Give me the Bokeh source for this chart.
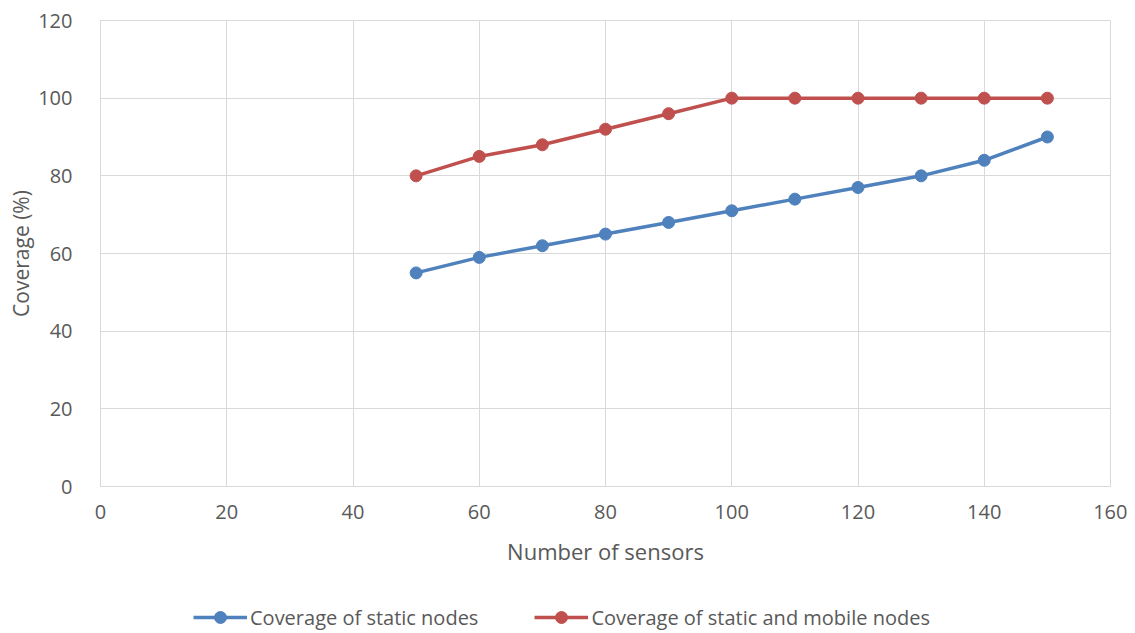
from bokeh.plotting import figure
from bokeh.layouts import column
from bokeh.models import Range1d, FixedTicker, Legend, LegendItem
from bokeh.embed import file_html
from bokeh.resources import INLINE

sensors = [50, 60, 70, 80, 90, 100, 110, 120, 130, 140, 150]
static_cov = [55, 59, 62, 65, 68, 71, 74, 77, 80, 84, 90]
mobile_cov = [80, 85, 88, 92, 96, 100, 100, 100, 100, 100, 100]
x_ticks = [0, 20, 40, 60, 80, 100, 120, 140, 160]
y_ticks = [0, 20, 40, 60, 80, 100, 120]
series_names = ["Coverage of static nodes", "Coverage of static and mobile nodes"]

BLUE = "#4F81BD"
RED = "#C0504D"
GRID = "#d9d9d9"
TXT = "#595959"
FONT = "Open Sans"

p = figure(width=1127, height=590, output_backend="svg", toolbar_location=None,
           x_range=Range1d(0, 160), y_range=Range1d(0, 120),
           min_border_left=100, min_border_top=20, min_border_right=17, min_border_bottom=104)
p.outline_line_color = GRID
p.background_fill_color = "white"
p.border_fill_color = "white"

for ax in (p.xaxis[0], p.yaxis[0]):
    ax.axis_line_color = GRID
    ax.major_tick_line_color = None
    ax.minor_tick_line_color = None
    ax.major_label_text_color = TXT
    ax.major_label_text_font = FONT
    ax.major_label_text_font_size = "20px"
    ax.axis_label_text_color = TXT
    ax.axis_label_text_font = FONT
    ax.axis_label_text_font_size = "21px"
    ax.axis_label_text_font_style = "normal"

p.xaxis[0].ticker = FixedTicker(ticks=x_ticks)
p.yaxis[0].ticker = FixedTicker(ticks=y_ticks)
p.xaxis[0].axis_label = "Number of sensors"
p.yaxis[0].axis_label = "Coverage (%)"
p.xaxis[0].axis_label_text_font_size = "22px"
p.xaxis[0].major_label_standoff = 12
p.yaxis[0].major_label_standoff = 22
p.xaxis[0].axis_label_standoff = 14
p.yaxis[0].axis_label_standoff = 0

p.xgrid.grid_line_color = GRID
p.ygrid.grid_line_color = GRID
p.xgrid.ticker = FixedTicker(ticks=x_ticks)
p.ygrid.ticker = FixedTicker(ticks=y_ticks)

series = [static_cov, mobile_cov]
colors = [BLUE, RED]
for vals, col in zip(series, colors):
    p.line(sensors, vals, line_color=col, line_width=3.5)
    p.scatter(sensors, vals, size=12, fill_color=col, line_color=col)

# legend strip below the chart (its renderers fall outside this strip's ranges)
lg = figure(width=1127, height=43, output_backend="svg", toolbar_location=None,
            x_range=Range1d(-2, -1), y_range=Range1d(-2, -1),
            x_axis_type=None, y_axis_type=None,
            min_border_left=0, min_border_right=0, min_border_top=0, min_border_bottom=0)
lg.outline_line_color = None
lg.xgrid.visible = False
lg.ygrid.visible = False
items = []
for name, vals, col in zip(series_names, series, colors):
    r1 = lg.line(sensors, vals, line_color=col, line_width=3.5)
    r2 = lg.scatter(sensors, vals, size=12, fill_color=col, line_color=col)
    items.append(LegendItem(label=name, renderers=[r1, r2]))

legend = Legend(items=items, orientation="horizontal", location=(93, 1), margin=0, padding=0,
                spacing=56, label_standoff=3, glyph_width=54, glyph_height=30,
                label_text_font=FONT, label_text_font_size="20px", label_text_color=TXT,
                border_line_color=None, background_fill_alpha=0)
lg.add_layout(legend, "center")

open("out.html", "w").write(file_html(column(p, lg, spacing=0), INLINE))
